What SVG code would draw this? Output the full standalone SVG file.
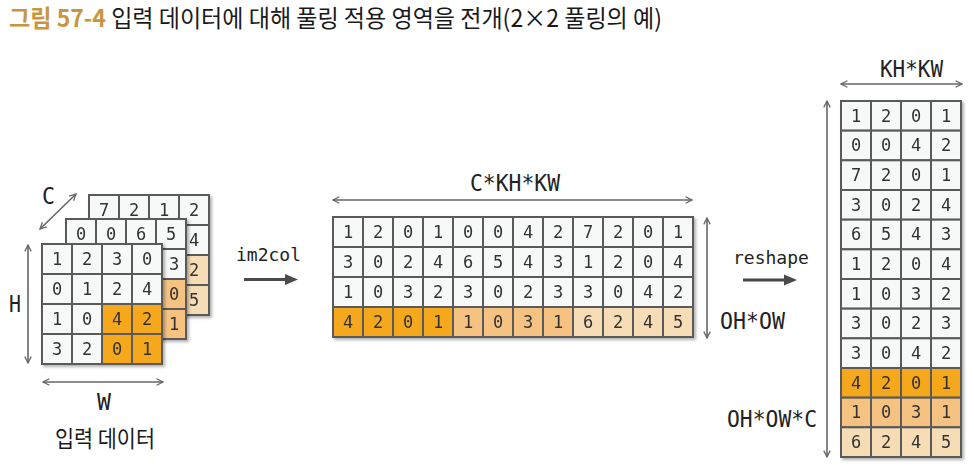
<svg xmlns="http://www.w3.org/2000/svg" width="974" height="469" viewBox="0 0 974 469">
<defs>
<style>
.cw{fill:#f7f8f8;stroke:#5a5a5a;stroke-width:2}
.co{fill:#f5a81f;stroke:#5a5a5a;stroke-width:2}
.cm{fill:#f5c282;stroke:#5a5a5a;stroke-width:2}
.cl{fill:#f7ddb6;stroke:#5a5a5a;stroke-width:2}
.d{font-family:"DejaVu Sans Mono",monospace;font-size:17px;fill:#333;text-anchor:middle}
.lb{font-family:"DejaVu Sans Mono",monospace;font-size:23px;fill:#222}
.op{font-family:"DejaVu Sans Mono",monospace;font-size:18px;fill:#222}
.dim{stroke:#666;stroke-width:1.6;fill:none;marker-start:url(#oa);marker-end:url(#oa)}
.big{stroke:#4a4a4a;stroke-width:3;fill:none}
</style>
<marker id="oa" viewBox="0 0 10 10" refX="9" refY="5" markerWidth="8" markerHeight="8" markerUnits="userSpaceOnUse" orient="auto-start-reverse">
<path d="M1,1 L9,5 L1,9" fill="none" stroke="#666" stroke-width="1.6"/>
</marker>
<filter id="sh" x="-10%" y="-10%" width="125%" height="125%">
<feDropShadow dx="2" dy="2" stdDeviation="1.5" flood-color="#000" flood-opacity="0.3"/>
</filter>
</defs>
<rect width="974" height="469" fill="#fff"/>

<g id="title">
<text x="9" y="27" font-family="'Noto Sans CJK KR','Noto Sans',sans-serif" font-size="24" textLength="653" lengthAdjust="spacingAndGlyphs"><tspan fill="#c8963e" font-weight="bold">그림 57-4</tspan><tspan fill="#1a1a1a"> 입력 데이터에 대해 풀링 적용 영역을 전개(2×2 풀링의 예)</tspan></text>
</g>

<g id="input-ch3" filter="url(#sh)">
<rect class="cw" x="89" y="195" width="30" height="30"/><rect class="cw" x="119" y="195" width="30" height="30"/><rect class="cw" x="149" y="195" width="30" height="30"/><rect class="cw" x="179" y="195" width="30" height="30"/>
<rect class="cw" x="89" y="225" width="30" height="30"/><rect class="cw" x="119" y="225" width="30" height="30"/><rect class="cw" x="149" y="225" width="30" height="30"/><rect class="cw" x="179" y="225" width="30" height="30"/>
<rect class="cw" x="89" y="255" width="30" height="30"/><rect class="cw" x="119" y="255" width="30" height="30"/><rect class="cl" x="149" y="255" width="30" height="30"/><rect class="cl" x="179" y="255" width="30" height="30"/>
<rect class="cw" x="89" y="285" width="30" height="30"/><rect class="cw" x="119" y="285" width="30" height="30"/><rect class="cl" x="149" y="285" width="30" height="30"/><rect class="cl" x="179" y="285" width="30" height="30"/>
<text class="d" x="104" y="216">7</text><text class="d" x="134" y="216">2</text><text class="d" x="164" y="216">1</text><text class="d" x="194" y="216">2</text>
<text class="d" x="194" y="246">4</text><text class="d" x="194" y="276">2</text><text class="d" x="194" y="306">5</text>
</g>

<g id="input-ch2" filter="url(#sh)">
<rect class="cw" x="66" y="219" width="30" height="30"/><rect class="cw" x="96" y="219" width="30" height="30"/><rect class="cw" x="126" y="219" width="30" height="30"/><rect class="cw" x="156" y="219" width="30" height="30"/>
<rect class="cw" x="66" y="249" width="30" height="30"/><rect class="cw" x="96" y="249" width="30" height="30"/><rect class="cw" x="126" y="249" width="30" height="30"/><rect class="cw" x="156" y="249" width="30" height="30"/>
<rect class="cw" x="66" y="279" width="30" height="30"/><rect class="cw" x="96" y="279" width="30" height="30"/><rect class="cm" x="126" y="279" width="30" height="30"/><rect class="cm" x="156" y="279" width="30" height="30"/>
<rect class="cw" x="66" y="309" width="30" height="30"/><rect class="cw" x="96" y="309" width="30" height="30"/><rect class="cm" x="126" y="309" width="30" height="30"/><rect class="cm" x="156" y="309" width="30" height="30"/>
<text class="d" x="81" y="240">0</text><text class="d" x="111" y="240">0</text><text class="d" x="141" y="240">6</text><text class="d" x="171" y="240">5</text>
<text class="d" x="174" y="270">3</text><text class="d" x="174" y="300">0</text><text class="d" x="174" y="330">1</text>
</g>

<g id="input-ch1" filter="url(#sh)">
<rect class="cw" x="42" y="244" width="30" height="30"/><rect class="cw" x="72" y="244" width="30" height="30"/><rect class="cw" x="102" y="244" width="30" height="30"/><rect class="cw" x="132" y="244" width="30" height="30"/>
<rect class="cw" x="42" y="274" width="30" height="30"/><rect class="cw" x="72" y="274" width="30" height="30"/><rect class="cw" x="102" y="274" width="30" height="30"/><rect class="cw" x="132" y="274" width="30" height="30"/>
<rect class="cw" x="42" y="304" width="30" height="30"/><rect class="cw" x="72" y="304" width="30" height="30"/><rect class="co" x="102" y="304" width="30" height="30"/><rect class="co" x="132" y="304" width="30" height="30"/>
<rect class="cw" x="42" y="334" width="30" height="30"/><rect class="cw" x="72" y="334" width="30" height="30"/><rect class="co" x="102" y="334" width="30" height="30"/><rect class="co" x="132" y="334" width="30" height="30"/>
<text class="d" x="57" y="265">1</text><text class="d" x="87" y="265">2</text><text class="d" x="117" y="265">3</text><text class="d" x="147" y="265">0</text>
<text class="d" x="57" y="295">0</text><text class="d" x="87" y="295">1</text><text class="d" x="117" y="295">2</text><text class="d" x="147" y="295">4</text>
<text class="d" x="57" y="325">1</text><text class="d" x="87" y="325">0</text><text class="d" x="117" y="325">4</text><text class="d" x="147" y="325">2</text>
<text class="d" x="57" y="355">3</text><text class="d" x="87" y="355">2</text><text class="d" x="117" y="355">0</text><text class="d" x="147" y="355">1</text>
</g>

<g id="input-labels">
<text class="lb" x="42" y="204" textLength="13" lengthAdjust="spacingAndGlyphs">C</text>
<text class="lb" x="9" y="312" font-size="25" textLength="12" lengthAdjust="spacingAndGlyphs">H</text>
<text class="lb" x="97" y="410" textLength="14" lengthAdjust="spacingAndGlyphs">W</text>
<text x="55" y="447" font-family="'Noto Sans CJK KR','Noto Sans',sans-serif" font-size="23" fill="#1a1a1a" textLength="100" lengthAdjust="spacingAndGlyphs">입력 데이터</text>
</g>

<g id="col-matrix" filter="url(#sh)">
<g>
<rect class="cw" x="333" y="217" width="30" height="30"/><rect class="cw" x="363" y="217" width="30" height="30"/><rect class="cw" x="393" y="217" width="30" height="30"/><rect class="cw" x="423" y="217" width="30" height="30"/><rect class="cw" x="453" y="217" width="30" height="30"/><rect class="cw" x="483" y="217" width="30" height="30"/><rect class="cw" x="513" y="217" width="30" height="30"/><rect class="cw" x="543" y="217" width="30" height="30"/><rect class="cw" x="573" y="217" width="30" height="30"/><rect class="cw" x="603" y="217" width="30" height="30"/><rect class="cw" x="633" y="217" width="30" height="30"/><rect class="cw" x="663" y="217" width="30" height="30"/>
<rect class="cw" x="333" y="247" width="30" height="30"/><rect class="cw" x="363" y="247" width="30" height="30"/><rect class="cw" x="393" y="247" width="30" height="30"/><rect class="cw" x="423" y="247" width="30" height="30"/><rect class="cw" x="453" y="247" width="30" height="30"/><rect class="cw" x="483" y="247" width="30" height="30"/><rect class="cw" x="513" y="247" width="30" height="30"/><rect class="cw" x="543" y="247" width="30" height="30"/><rect class="cw" x="573" y="247" width="30" height="30"/><rect class="cw" x="603" y="247" width="30" height="30"/><rect class="cw" x="633" y="247" width="30" height="30"/><rect class="cw" x="663" y="247" width="30" height="30"/>
<rect class="cw" x="333" y="277" width="30" height="30"/><rect class="cw" x="363" y="277" width="30" height="30"/><rect class="cw" x="393" y="277" width="30" height="30"/><rect class="cw" x="423" y="277" width="30" height="30"/><rect class="cw" x="453" y="277" width="30" height="30"/><rect class="cw" x="483" y="277" width="30" height="30"/><rect class="cw" x="513" y="277" width="30" height="30"/><rect class="cw" x="543" y="277" width="30" height="30"/><rect class="cw" x="573" y="277" width="30" height="30"/><rect class="cw" x="603" y="277" width="30" height="30"/><rect class="cw" x="633" y="277" width="30" height="30"/><rect class="cw" x="663" y="277" width="30" height="30"/>
<rect class="co" x="333" y="307" width="30" height="30"/><rect class="co" x="363" y="307" width="30" height="30"/><rect class="co" x="393" y="307" width="30" height="30"/><rect class="co" x="423" y="307" width="30" height="30"/><rect class="cm" x="453" y="307" width="30" height="30"/><rect class="cm" x="483" y="307" width="30" height="30"/><rect class="cm" x="513" y="307" width="30" height="30"/><rect class="cm" x="543" y="307" width="30" height="30"/><rect class="cl" x="573" y="307" width="30" height="30"/><rect class="cl" x="603" y="307" width="30" height="30"/><rect class="cl" x="633" y="307" width="30" height="30"/><rect class="cl" x="663" y="307" width="30" height="30"/>
</g>
<text class="d" y="238"><tspan x="348">1</tspan><tspan x="378">2</tspan><tspan x="408">0</tspan><tspan x="438">1</tspan><tspan x="468">0</tspan><tspan x="498">0</tspan><tspan x="528">4</tspan><tspan x="558">2</tspan><tspan x="588">7</tspan><tspan x="618">2</tspan><tspan x="648">0</tspan><tspan x="678">1</tspan></text>
<text class="d" y="268"><tspan x="348">3</tspan><tspan x="378">0</tspan><tspan x="408">2</tspan><tspan x="438">4</tspan><tspan x="468">6</tspan><tspan x="498">5</tspan><tspan x="528">4</tspan><tspan x="558">3</tspan><tspan x="588">1</tspan><tspan x="618">2</tspan><tspan x="648">0</tspan><tspan x="678">4</tspan></text>
<text class="d" y="298"><tspan x="348">1</tspan><tspan x="378">0</tspan><tspan x="408">3</tspan><tspan x="438">2</tspan><tspan x="468">3</tspan><tspan x="498">0</tspan><tspan x="528">2</tspan><tspan x="558">3</tspan><tspan x="588">3</tspan><tspan x="618">0</tspan><tspan x="648">4</tspan><tspan x="678">2</tspan></text>
<text class="d" y="328"><tspan x="348">4</tspan><tspan x="378">2</tspan><tspan x="408">0</tspan><tspan x="438">1</tspan><tspan x="468">1</tspan><tspan x="498">0</tspan><tspan x="528">3</tspan><tspan x="558">1</tspan><tspan x="588">6</tspan><tspan x="618">2</tspan><tspan x="648">4</tspan><tspan x="678">5</tspan></text>
</g>

<g id="col-labels">
<text class="lb" x="470" y="191" textLength="90" lengthAdjust="spacingAndGlyphs">C*KH*KW</text>
<text class="lb" x="720" y="329" textLength="65" lengthAdjust="spacingAndGlyphs">OH*OW</text>
</g>

<g id="out-matrix" filter="url(#sh)">
<g id="out-rows">
<rect class="cw" x="841" y="101" width="30" height="29.67"/><rect class="cw" x="871" y="101" width="30" height="29.67"/><rect class="cw" x="901" y="101" width="30" height="29.67"/><rect class="cw" x="931" y="101" width="30" height="29.67"/>
<rect class="cw" x="841" y="130.67" width="30" height="29.67"/><rect class="cw" x="871" y="130.67" width="30" height="29.67"/><rect class="cw" x="901" y="130.67" width="30" height="29.67"/><rect class="cw" x="931" y="130.67" width="30" height="29.67"/>
<rect class="cw" x="841" y="160.33" width="30" height="29.67"/><rect class="cw" x="871" y="160.33" width="30" height="29.67"/><rect class="cw" x="901" y="160.33" width="30" height="29.67"/><rect class="cw" x="931" y="160.33" width="30" height="29.67"/>
<rect class="cw" x="841" y="190" width="30" height="29.67"/><rect class="cw" x="871" y="190" width="30" height="29.67"/><rect class="cw" x="901" y="190" width="30" height="29.67"/><rect class="cw" x="931" y="190" width="30" height="29.67"/>
<rect class="cw" x="841" y="219.67" width="30" height="29.67"/><rect class="cw" x="871" y="219.67" width="30" height="29.67"/><rect class="cw" x="901" y="219.67" width="30" height="29.67"/><rect class="cw" x="931" y="219.67" width="30" height="29.67"/>
<rect class="cw" x="841" y="249.33" width="30" height="29.67"/><rect class="cw" x="871" y="249.33" width="30" height="29.67"/><rect class="cw" x="901" y="249.33" width="30" height="29.67"/><rect class="cw" x="931" y="249.33" width="30" height="29.67"/>
<rect class="cw" x="841" y="279" width="30" height="29.67"/><rect class="cw" x="871" y="279" width="30" height="29.67"/><rect class="cw" x="901" y="279" width="30" height="29.67"/><rect class="cw" x="931" y="279" width="30" height="29.67"/>
<rect class="cw" x="841" y="308.67" width="30" height="29.67"/><rect class="cw" x="871" y="308.67" width="30" height="29.67"/><rect class="cw" x="901" y="308.67" width="30" height="29.67"/><rect class="cw" x="931" y="308.67" width="30" height="29.67"/>
<rect class="cw" x="841" y="338.33" width="30" height="29.67"/><rect class="cw" x="871" y="338.33" width="30" height="29.67"/><rect class="cw" x="901" y="338.33" width="30" height="29.67"/><rect class="cw" x="931" y="338.33" width="30" height="29.67"/>
<rect class="co" x="841" y="368" width="30" height="29.67"/><rect class="co" x="871" y="368" width="30" height="29.67"/><rect class="co" x="901" y="368" width="30" height="29.67"/><rect class="co" x="931" y="368" width="30" height="29.67"/>
<rect class="cm" x="841" y="397.67" width="30" height="29.67"/><rect class="cm" x="871" y="397.67" width="30" height="29.67"/><rect class="cm" x="901" y="397.67" width="30" height="29.67"/><rect class="cm" x="931" y="397.67" width="30" height="29.67"/>
<rect class="cl" x="841" y="427.33" width="30" height="29.67"/><rect class="cl" x="871" y="427.33" width="30" height="29.67"/><rect class="cl" x="901" y="427.33" width="30" height="29.67"/><rect class="cl" x="931" y="427.33" width="30" height="29.67"/>
</g>
<text class="d" y="121.5"><tspan x="856">1</tspan><tspan x="886">2</tspan><tspan x="916">0</tspan><tspan x="946">1</tspan></text>
<text class="d" y="151.2"><tspan x="856">0</tspan><tspan x="886">0</tspan><tspan x="916">4</tspan><tspan x="946">2</tspan></text>
<text class="d" y="180.8"><tspan x="856">7</tspan><tspan x="886">2</tspan><tspan x="916">0</tspan><tspan x="946">1</tspan></text>
<text class="d" y="210.5"><tspan x="856">3</tspan><tspan x="886">0</tspan><tspan x="916">2</tspan><tspan x="946">4</tspan></text>
<text class="d" y="240.2"><tspan x="856">6</tspan><tspan x="886">5</tspan><tspan x="916">4</tspan><tspan x="946">3</tspan></text>
<text class="d" y="269.8"><tspan x="856">1</tspan><tspan x="886">2</tspan><tspan x="916">0</tspan><tspan x="946">4</tspan></text>
<text class="d" y="299.5"><tspan x="856">1</tspan><tspan x="886">0</tspan><tspan x="916">3</tspan><tspan x="946">2</tspan></text>
<text class="d" y="329.2"><tspan x="856">3</tspan><tspan x="886">0</tspan><tspan x="916">2</tspan><tspan x="946">3</tspan></text>
<text class="d" y="358.8"><tspan x="856">3</tspan><tspan x="886">0</tspan><tspan x="916">4</tspan><tspan x="946">2</tspan></text>
<text class="d" y="388.5"><tspan x="856">4</tspan><tspan x="886">2</tspan><tspan x="916">0</tspan><tspan x="946">1</tspan></text>
<text class="d" y="418.2"><tspan x="856">1</tspan><tspan x="886">0</tspan><tspan x="916">3</tspan><tspan x="946">1</tspan></text>
<text class="d" y="447.8"><tspan x="856">6</tspan><tspan x="886">2</tspan><tspan x="916">4</tspan><tspan x="946">5</tspan></text>
</g>

<g id="out-labels">
<text class="lb" x="880" y="77" textLength="63" lengthAdjust="spacingAndGlyphs">KH*KW</text>
<text class="lb" x="727" y="427" textLength="90" lengthAdjust="spacingAndGlyphs">OH*OW*C</text>
</g>

<g id="ops">
<text class="op" x="236" y="261">im2col</text>
<text class="op" x="733" y="264" font-size="19">reshape</text>
</g>

<g id="connectors">
<line class="dim" x1="40" y1="229" x2="76" y2="194"/>
<line class="dim" x1="28" y1="245" x2="28" y2="363"/>
<line class="dim" x1="43" y1="382" x2="163" y2="382"/>
<line class="dim" x1="333" y1="200" x2="692" y2="200"/>
<line class="dim" x1="707" y1="218" x2="707" y2="338"/>
<line class="dim" x1="841" y1="84" x2="962" y2="84"/>
<line class="dim" x1="827" y1="101" x2="827" y2="457"/>
<line class="big" x1="244" y1="279.5" x2="287" y2="279.5"/>
<polygon points="285,274 298,279.5 285,285" fill="#4a4a4a"/>
<line class="big" x1="743" y1="280" x2="786" y2="280"/>
<polygon points="784,274.5 797,280 784,285.5" fill="#4a4a4a"/>
</g>
</svg>
